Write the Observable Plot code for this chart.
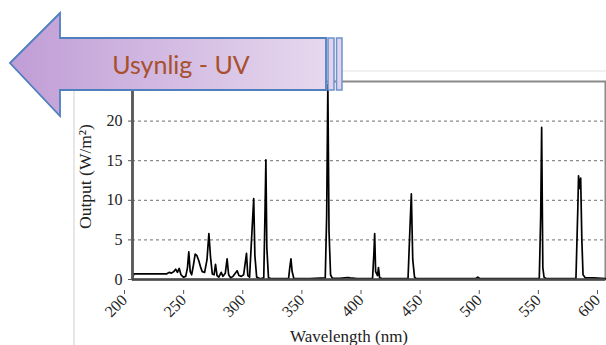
<!DOCTYPE html>
<html>
<head>
<meta charset="utf-8">
<script src="https://cdn.jsdelivr.net/npm/d3@7"></script>
<script src="https://cdn.jsdelivr.net/npm/@observablehq/plot@0.6"></script>
<style>
  html, body { margin: 0; padding: 0; background: #fff; }
  #wrap { position: relative; width: 606px; height: 345px; overflow: hidden; }
  #overlay { position: absolute; left: 0; top: 0; pointer-events: none; }
</style>
</head>
<body>
<div id="wrap"></div>
<script>
// ---- data ----
const wavelength = [
  200, 201, 210, 220, 229, 231, 233, 235, 236.5, 238, 239.5, 241, 243, 245,
  246.5, 247.6, 248.8, 250, 251.5, 253, 254.5, 256, 257.5, 259, 261, 263, 264.6,
  266, 267.5, 269, 270.2, 271.5, 273, 275, 276.5, 278.5, 280, 281.3, 283, 285,
  288.5, 290, 292, 294, 296.4, 297.5, 299, 301, 302.5, 303.5, 305, 308, 311,
  312, 312.8, 313.6, 315, 318, 332, 333, 334, 335, 336.5, 350, 363, 364.2,
  365.2, 366.2, 367.5, 369, 375, 382, 384, 390, 403, 404.2, 404.8, 405.6,
  407.2, 408, 409, 412, 433, 434.5, 435.8, 437, 438.5, 440, 490, 492, 494,
  544, 545.2, 546, 547, 548, 550, 575, 576.6, 577.2, 578, 579, 580, 581, 583,
  590, 600
];
const output = [
  0, 0.7, 0.72, 0.72, 0.72, 0.9, 0.8, 1.0, 1.3, 0.9, 1.4, 0.6, 0.3, 0.4,
  1.5, 3.5, 1.0, 0.6, 1.8, 3.2, 3.0, 2.4, 1.6, 1.0, 0.9, 2.5, 5.8,
  2.8, 0.7, 0.6, 1.9, 0.5, 0.3, 0.9, 0.4, 0.8, 2.6, 0.6, 0.2, 0.4,
  1.1, 0.5, 0.4, 0.6, 3.3, 0.5, 0.3, 6.0, 10.2, 3.0, 0.3, 0.1, 0.2,
  8, 15.1, 4, 0.2, 0.1, 0.1, 1.5, 2.6, 1.0, 0.1, 0.1, 0.2, 8,
  24.6, 6, 0.6, 0.15, 0.15, 0.25, 0.2, 0.1, 0.1, 3.5, 5.8, 1,
  0.5, 1.5, 0.2, 0.1, 0.1, 6, 10.8, 2.5, 0.3, 0.1, 0.1, 0.3, 0.1,
  0.1, 8, 19.2, 1.5, 0.3, 0.1, 0.1, 9, 13.1, 11.5, 12.8, 5, 0.6, 0.2,
  0.2, 0.1
];
const xTicks = [200, 250, 300, 350, 400, 450, 500, 550, 600];
const yTicks = [0, 5, 10, 15, 20];
const gridLines = [5, 10, 15, 20];
const xDomain = [200, 600];
const yDomain = [0, 25];
const xLabel = "Wavelength (nm)";
const yLabel = "Output (W/m²)";
const bannerText = "Usynlig - UV";

const data = wavelength.map((w, i) => ({wl: w, out: output[i]}));

const serif = "'Liberation Serif', 'Times New Roman', serif";

const chart = Plot.plot({
  width: 606,
  height: 345,
  marginLeft: 132,
  marginRight: 1,
  marginTop: 81,
  marginBottom: 66,
  style: {fontFamily: serif, fontSize: "16px", color: "#222", background: "#fff"},
  x: {domain: xDomain},
  y: {domain: yDomain},
  marks: [
    Plot.ruleY(gridLines, {stroke: "#8c8c8c", strokeWidth: 1.3, strokeDasharray: "3,3"}),
    Plot.frame({stroke: "#8a8a8a", strokeWidth: 2}),
    Plot.line(data, {x: "wl", y: "out", stroke: "#000", strokeWidth: 1.7}),
    Plot.ruleX([xDomain[0]], {stroke: "#5a5a5a", strokeWidth: 2.8}),
    Plot.ruleY([yDomain[0]], {stroke: "#4a4a4a", strokeWidth: 2.6}),
    Plot.axisX({ticks: xTicks, tickSize: 4, tickPadding: 3, tickRotate: -45,
                label: null, fontSize: 16, dx: -8, dy: 11, stroke: "#555"}),
    Plot.axisY({ticks: yTicks, tickSize: 4, tickPadding: 6, label: null,
                fontSize: 16, stroke: "#555"}),
    Plot.text([xLabel], {frameAnchor: "bottom", textAnchor: "middle", lineAnchor: "bottom",
                         dx: -20, dy: 62, fontSize: 17, fill: "#222"}),
    Plot.text([yLabel], {frameAnchor: "left", textAnchor: "middle", lineAnchor: "middle",
                         rotate: -90, dx: -47, dy: -4, fontSize: 17.5, fill: "#222"})
  ]
});

const wrap = document.getElementById("wrap");
wrap.appendChild(chart);

// ---- decorative overlay: outer chart-area border and the banner arrow ----
const ns = "http://www.w3.org/2000/svg";
const ov = document.createElementNS(ns, "svg");
ov.setAttribute("id", "overlay");
ov.setAttribute("width", 606);
ov.setAttribute("height", 345);
ov.innerHTML = `
  <defs>
    <linearGradient id="ag" x1="0" y1="0" x2="1" y2="0">
      <stop offset="0" stop-color="#c09dd6"/>
      <stop offset="1" stop-color="#e6d8ee"/>
    </linearGradient>
  </defs>
  <line x1="74" y1="88" x2="74" y2="345" stroke="#cfcfcf" stroke-width="1"/>
  <line x1="340" y1="71" x2="606" y2="71" stroke="#e2e2e2" stroke-width="1"/>
  <path d="M10,63 L60,13 L60,38 L326,38 L326,90 L60,90 L60,116 Z"
        fill="url(#ag)" stroke="#4f7fbf" stroke-width="1.8" stroke-linejoin="miter"/>
  <rect x="328" y="38" width="6" height="52" fill="#e2d3ec" stroke="#6b93cc" stroke-width="1.5"/>
  <rect x="336.5" y="38" width="5.5" height="52" fill="#e2d3ec" stroke="#6b93cc" stroke-width="1.5"/>
  <text x="181" y="74" text-anchor="middle" font-family="Lato, 'Open Sans', sans-serif"
        font-size="25" fill="#a8502c">${bannerText}</text>
`;
wrap.appendChild(ov);
</script>
</body>
</html>
